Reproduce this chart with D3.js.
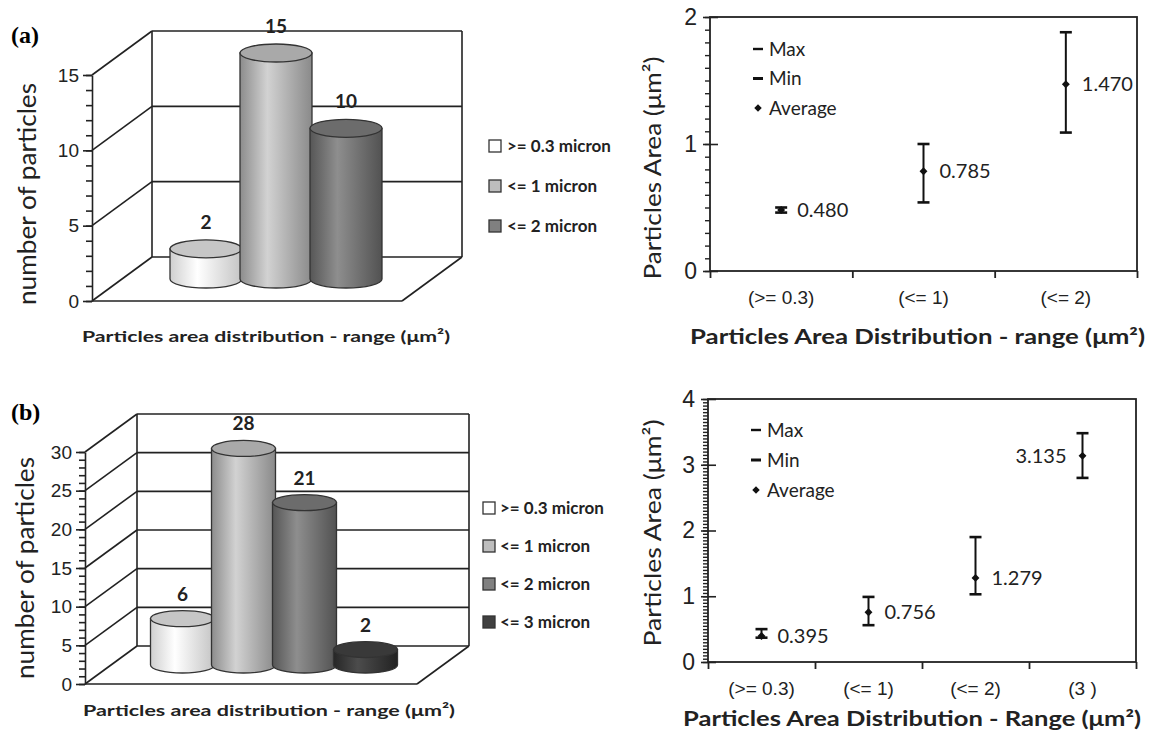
<!DOCTYPE html>
<html>
<head>
<meta charset="utf-8">
<script src="https://cdn.jsdelivr.net/npm/d3@7"></script>
<style>
  body { margin: 0; background: #fff; }
  svg { display: block; font-family: Lato, "Open Sans", sans-serif; }
</style>
</head>
<body>
<svg id="fig" width="1151" height="733"></svg>
<script>
// ---- data ----
var seriesA = [">= 0.3 micron", "<= 1 micron", "<= 2 micron"];
var countsA = [2, 15, 10];
var seriesB = [">= 0.3 micron", "<= 1 micron", "<= 2 micron", "<= 3 micron"];
var countsB = [6, 28, 21, 2];

var rangeA = ["(>= 0.3)", "(<= 1)", "(<= 2)"];
var avgA = [0.480, 0.785, 1.470];
var maxA = [0.50, 1.00, 1.88];
var minA = [0.46, 0.54, 1.09];

var rangeB = ["(>= 0.3)", "(<= 1)", "(<= 2)", "(3 )"];
var avgB = [0.395, 0.756, 1.279, 3.135];
var maxB = [0.50, 0.99, 1.90, 3.48];
var minB = [0.37, 0.56, 1.03, 2.80];

var legendRight = ["Max", "Min", "Average"];

// greys for the cylinders: [left edge, highlight, right edge, top]
var greys = [
  ["#cfcfcf", "#ffffff", "#c4c4c4", "#c6c6c6"],
  ["#8c8c8c", "#d2d2d2", "#8a8a8a", "#a9a9a9"],
  ["#565656", "#8e8e8e", "#525252", "#6c6c6c"],
  ["#262626", "#4c4c4c", "#222222", "#393939"]
];
var swatch = ["#ffffff", "#bdbdbd", "#808080", "#404040"];

var svg = d3.select("#fig");
var defs = svg.append("defs");
greys.forEach(function (g, i) {
  var lg = defs.append("linearGradient").attr("id", "cyl" + i)
    .attr("x1", "0%").attr("x2", "100%").attr("y1", "0%").attr("y2", "0%");
  lg.append("stop").attr("offset", "0%").attr("stop-color", g[0]);
  lg.append("stop").attr("offset", "38%").attr("stop-color", g[1]);
  lg.append("stop").attr("offset", "100%").attr("stop-color", g[2]);
});

// panel letters
svg.append("text").attr("x", 11).attr("y", 43).text("(a)")
  .style("font-family", "'Liberation Serif', serif").style("font-weight", "bold").style("font-size", "24px");
svg.append("text").attr("x", 11).attr("y", 420).text("(b)")
  .style("font-family", "'Liberation Serif', serif").style("font-weight", "bold").style("font-size", "24px");

// 3D cylinder bar chart
function cylChart(o) {
  var g = svg.append("g");
  var y = d3.scaleLinear().domain([0, o.yMax]).range([o.y0, o.yTop]);
  var x0 = o.x0, W = o.W, dx = o.dx, dy = o.dy;
  var wall = g.append("g").attr("fill", "none").attr("stroke", "#222").attr("stroke-width", 1.6);
  var grid = d3.range(0, o.yMax + 0.001, o.step);
  // back wall gridlines and side diagonals
  grid.forEach(function (v) {
    wall.append("line").attr("x1", x0 + dx).attr("x2", x0 + W + dx)
      .attr("y1", y(v) + dy).attr("y2", y(v) + dy);
    wall.append("line").attr("x1", x0).attr("x2", x0 + dx)
      .attr("y1", y(v)).attr("y2", y(v) + dy);
  });
  wall.append("line").attr("x1", x0 + dx).attr("x2", x0 + dx)
    .attr("y1", y(0) + dy).attr("y2", y(o.yMax) + dy);
  wall.append("line").attr("x1", x0 + W + dx).attr("x2", x0 + W + dx)
    .attr("y1", y(0) + dy).attr("y2", y(o.yMax) + dy);
  // floor
  wall.append("line").attr("x1", x0).attr("x2", x0 + W).attr("y1", y(0)).attr("y2", y(0));
  wall.append("line").attr("x1", x0 + W).attr("x2", x0 + W + dx).attr("y1", y(0)).attr("y2", y(0) + dy);

  // axis
  var minor = g.append("g").attr("transform", "translate(" + x0 + ",0)")
    .call(d3.axisLeft(y).tickValues(d3.range(0, o.yMax + 0.001, 1)).tickSize(6).tickFormat(""));
  minor.select(".domain").remove();
  minor.selectAll("line").attr("stroke", "#222").attr("stroke-width", 1.6);
  var ax = g.append("g").attr("transform", "translate(" + x0 + ",0)")
    .call(d3.axisLeft(y).tickValues(grid).tickSize(9).tickSizeOuter(0).tickPadding(4));
  ax.select(".domain").attr("stroke", "#222").attr("stroke-width", 1.6);
  ax.selectAll("line").attr("stroke", "#222").attr("stroke-width", 1.6);
  ax.selectAll("text").style("font-size", "19px").attr("fill", "#222");

  // cylinders
  var xb = d3.scaleBand().domain(o.series).range(o.band).padding(0);
  var bars = g.append("g");
  o.series.forEach(function (s, i) {
    var cx = xb(s) + xb.bandwidth() / 2 + dx / 2;
    var yb = y(0) + dy / 2, yt = y(o.values[i]) + dy / 2;
    var rx = o.rx, ry = o.ry;
    var col = o.colorIdx[i];
    bars.append("path")
      .attr("d", "M" + (cx - rx) + "," + yt + " L" + (cx - rx) + "," + yb +
        " A" + rx + "," + ry + " 0 0 0 " + (cx + rx) + "," + yb +
        " L" + (cx + rx) + "," + yt + " Z")
      .attr("fill", "url(#cyl" + col + ")").attr("stroke", "#333").attr("stroke-width", 1.3);
    bars.append("ellipse").attr("cx", cx).attr("cy", yt).attr("rx", rx).attr("ry", ry)
      .attr("fill", greys[col][3]).attr("stroke", "#333").attr("stroke-width", 1.3);
    bars.append("text").attr("x", cx).attr("y", yt - o.labelGap)
      .attr("text-anchor", "middle").text(o.values[i])
      .style("font-weight", "bold").style("font-size", "19px").attr("fill", "#222");
  });

  // titles
  g.append("text").attr("transform", "translate(" + o.yTitle[0] + "," + o.yTitle[1] + ") rotate(-90)")
    .attr("text-anchor", "middle").attr("dy", "0.35em").text("number of particles")
    .attr("textLength", 222).attr("lengthAdjust", "spacingAndGlyphs")
    .style("font-size", "25px").attr("fill", "#222");
  g.append("text").attr("x", o.xTitle[0]).attr("y", o.xTitle[1])
    .text("Particles area distribution - range (\u03bcm\u00b2)")
    .attr("textLength", o.xTitle[2]).attr("lengthAdjust", "spacingAndGlyphs")
    .style("font-weight", "bold").style("font-size", "16px").attr("fill", "#222");

  // legend
  var lg = g.append("g");
  o.series.forEach(function (s, i) {
    var yy = o.legend[1] + i * o.legend[3];
    lg.append("rect").attr("x", o.legend[0]).attr("y", yy - 6).attr("width", 12).attr("height", 12)
      .attr("fill", swatch[o.colorIdx[i]]).attr("stroke", "#333").attr("stroke-width", 1.3);
    lg.append("text").attr("x", o.legend[2]).attr("y", yy).attr("dy", "0.35em").text(s)
      .style("font-weight", "bold").style("font-size", "17px").attr("fill", "#222");
  });
}

cylChart({
  series: seriesA, values: countsA, colorIdx: [0, 1, 2],
  x0: 92, y0: 301, yTop: 75, yMax: 15, step: 5, W: 310, dx: 60, dy: -44,
  band: [141, 351], rx: 36, ry: 9, labelGap: 20,
  yTitle: [27, 194], xTitle: [82, 342, 368],
  legend: [489, 146, 507, 40]
});
cylChart({
  series: seriesB, values: countsB, colorIdx: [0, 1, 2, 3],
  x0: 85, y0: 684, yTop: 452, yMax: 30, step: 5, W: 332, dx: 52, dy: -38,
  band: [126, 370], rx: 32, ry: 8, labelGap: 18,
  yTitle: [25, 568], xTitle: [83, 716, 372],
  legend: [483, 508, 500, 38]
});

// min / max / average chart
function rangeChart(o) {
  var g = svg.append("g");
  var y = d3.scaleLinear().domain([0, o.yMax]).range([o.bottom, o.top]);
  var x = d3.scaleBand().domain(o.cats).range([o.left, o.right]).padding(0);
  var xi = d3.scaleLinear().domain([0, o.cats.length]).range([o.left, o.right]);

  g.append("rect").attr("x", o.left).attr("y", o.top)
    .attr("width", o.right - o.left).attr("height", o.bottom - o.top)
    .attr("fill", "none").attr("stroke", "#222").attr("stroke-width", 1.8);

  var minor = g.append("g").attr("transform", "translate(" + o.left + ",0)")
    .call(d3.axisLeft(y).tickValues(d3.range(0, o.yMax + 0.0001, o.minor)).tickSize(5).tickFormat(""));
  minor.select(".domain").remove();
  minor.selectAll("line").attr("stroke", "#222").attr("stroke-width", 1.4);
  var ay = g.append("g").attr("transform", "translate(" + o.left + ",0)")
    .call(d3.axisLeft(y).tickValues(d3.range(0, o.yMax + 0.1, 1)).tickFormat(d3.format("d"))
      .tickSize(7).tickSizeOuter(0).tickPadding(6));
  ay.select(".domain").remove();
  ay.selectAll("line").attr("x1", 8).attr("stroke", "#222").attr("stroke-width", 1.6);
  ay.selectAll("text").style("font-size", "23px").attr("fill", "#222");

  var bt = g.append("g").attr("transform", "translate(0," + o.bottom + ")")
    .call(d3.axisBottom(xi).tickValues(d3.range(0, o.cats.length + 1)).tickSize(7).tickFormat(""));
  bt.select(".domain").remove();
  bt.selectAll("line").attr("stroke", "#222").attr("stroke-width", 1.8);
  var bl = g.append("g").attr("transform", "translate(0," + o.bottom + ")")
    .call(d3.axisBottom(x).tickSize(0).tickPadding(20));
  bl.select(".domain").remove();
  bl.selectAll("text").style("font-size", "19px").attr("fill", "#222");

  var fmt = d3.format(".3f");
  o.cats.forEach(function (c, i) {
    var cx = x(c) + x.bandwidth() / 2;
    var p = g.append("g").attr("stroke", "#111").attr("stroke-width", 2);
    p.append("line").attr("x1", cx).attr("x2", cx).attr("y1", y(o.max[i])).attr("y2", y(o.min[i]));
    p.append("line").attr("x1", cx - 6).attr("x2", cx + 6).attr("y1", y(o.max[i])).attr("y2", y(o.max[i])).attr("stroke-width", 2.6);
    p.append("line").attr("x1", cx - 6).attr("x2", cx + 6).attr("y1", y(o.min[i])).attr("y2", y(o.min[i])).attr("stroke-width", 2.6);
    g.append("path").attr("d", d3.symbol(d3.symbolDiamond2, 40)()).attr("transform", "translate(" + cx + "," + y(o.avg[i]) + ")")
      .attr("fill", "#111");
    var left = i === o.leftLabel;
    g.append("text").attr("x", cx + (left ? -16 : 16)).attr("y", y(o.avg[i])).attr("dy", "0.35em")
      .attr("text-anchor", left ? "end" : "start").text(fmt(o.avg[i]))
      .style("font-size", "20px").attr("fill", "#222");
  });

  // legend
  legendRight.forEach(function (s, i) {
    var yy = o.legend[1] + i * o.legend[2];
    if (i < 2) {
      g.append("line").attr("x1", o.legend[0] - 5).attr("x2", o.legend[0] + 5).attr("y1", yy).attr("y2", yy)
        .attr("stroke", "#111").attr("stroke-width", i === 0 ? 2.4 : 3);
    } else {
      g.append("path").attr("d", d3.symbol(d3.symbolDiamond2, 36)()).attr("transform", "translate(" + o.legend[0] + "," + yy + ")")
        .attr("fill", "#111");
    }
    g.append("text").attr("x", o.legend[0] + 11).attr("y", yy).attr("dy", "0.35em").text(s)
      .style("font-size", "19px").attr("fill", "#222");
  });

  g.append("text").attr("transform", "translate(" + o.yTitle[0] + "," + o.yTitle[1] + ") rotate(-90)")
    .attr("text-anchor", "middle").attr("dy", "0.35em").text("Particles Area (\u03bcm\u00b2)")
    .attr("textLength", o.yTitle[2]).attr("lengthAdjust", "spacingAndGlyphs")
    .style("font-size", "24px").attr("fill", "#222");
  g.append("text").attr("x", o.xTitle[0]).attr("y", o.xTitle[1]).text(o.xText)
    .attr("textLength", o.xTitle[2]).attr("lengthAdjust", "spacingAndGlyphs")
    .style("font-weight", "bold").style("font-size", "21px").attr("fill", "#222");
}

rangeChart({
  cats: rangeA, avg: avgA, max: maxA, min: minA, yMax: 2, minor: 0.1,
  left: 710, right: 1137, top: 17, bottom: 271, leftLabel: -1,
  legend: [758, 49, 29.5], yTitle: [653, 168, 223],
  xText: "Particles Area Distribution - range (\u03bcm\u00b2)", xTitle: [690, 344, 455]
});
rangeChart({
  cats: rangeB, avg: avgB, max: maxB, min: minB, yMax: 4, minor: 0.05,
  left: 708, right: 1136, top: 399, bottom: 662, leftLabel: 3,
  legend: [756, 430, 30], yTitle: [653, 533, 227],
  xText: "Particles Area Distribution - Range (\u03bcm\u00b2)", xTitle: [683, 726, 458]
});
</script>
</body>
</html>
